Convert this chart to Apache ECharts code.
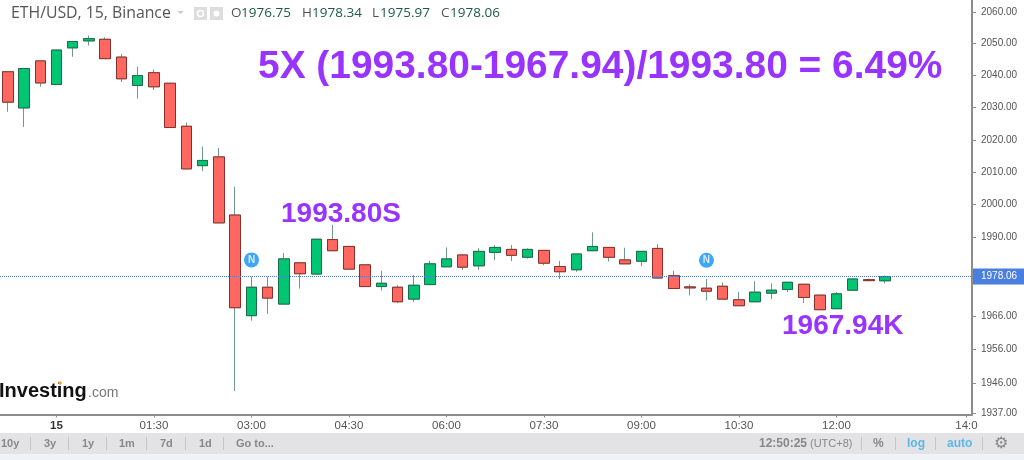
<!DOCTYPE html>
<html><head><meta charset="utf-8">
<style>html,body{margin:0;padding:0;background:#fff}#c{width:1024px;height:460px}</style>
<script src="https://cdn.jsdelivr.net/npm/echarts@6/dist/echarts.min.js"></script>
</head><body><div id="c"></div>
<script>
const barIndex = [-3,-2,-1,0,1,2,3,4,5,6,7,8,9,10,11,12,13,14,15,16,17,18,19,20,21,22,23,24,25,26,27,28,29,30,31,32,33,34,35,36,37,38,39,40,41,42,43,44,45,46,47,48,49,50,51];
const opens  = [2041.2,2029.9,2044.6,2037.2,2048.7,2050.9,2051.4,2045.8,2036.9,2040.9,2037.6,2024.2,2012.0,2014.7,1996.8,1966.2,1974.8,1969.7,1982.2,1978.8,1989.3,1987.2,1981.6,1975.0,1974.8,1971.2,1975.6,1981.0,1984.6,1981.3,1985.4,1986.3,1983.9,1986.0,1981.1,1980.1,1985.9,1986.9,1983.1,1982.7,1986.6,1978.3,1974.9,1974.5,1975.1,1971.0,1970.4,1973.0,1974.1,1975.7,1972.4,1968.3,1973.9,1977.1,1976.75];
const closes = [2031.7,2042.2,2037.7,2048.0,2050.7,2051.6,2045.3,2039.0,2040.0,2036.5,2023.8,2011.0,2013.6,1994.4,1968.6,1974.8,1971.5,1983.4,1978.9,1989.4,1985.9,1980.3,1975.0,1976.0,1970.4,1975.4,1981.9,1983.4,1980.9,1985.7,1986.9,1984.5,1986.3,1982.1,1979.5,1984.9,1987.2,1983.9,1981.9,1985.7,1977.6,1974.4,1974.6,1973.6,1971.2,1969.2,1973.3,1973.9,1976.3,1971.7,1968.0,1972.8,1977.3,1976.8,1978.06];
const lows   = [2028.7,2024.0,2036.5,2037.1,2045.9,2049.4,2045.3,2038.0,2032.8,2035.5,2023.8,2010.9,2010.3,1994.4,1943.6,1964.7,1966.7,1969.7,1974.4,1978.6,1985.9,1980.3,1975.0,1973.8,1970.0,1970.3,1975.6,1981.0,1980.0,1980.1,1983.0,1982.7,1983.5,1981.5,1977.3,1979.5,1985.9,1982.6,1981.9,1981.2,1977.4,1974.4,1972.3,1970.8,1971.2,1969.2,1970.4,1971.2,1973.4,1970.0,1968.0,1968.3,1973.9,1976.6,1975.97];
const highs  = [2041.2,2042.4,2044.6,2048.2,2050.9,2052.6,2052.0,2046.8,2042.8,2041.9,2037.6,2025.4,2017.9,2017.5,2005.5,1978.0,1978.0,1985.2,1982.2,1989.5,1993.8,1987.2,1981.6,1979.8,1975.4,1978.5,1982.8,1986.9,1984.9,1986.7,1987.6,1987.6,1986.6,1986.0,1982.8,1984.9,1991.5,1986.9,1986.8,1985.7,1987.9,1979.8,1975.7,1977.3,1976.3,1973.4,1976.6,1976.0,1976.3,1975.7,1972.4,1973.4,1977.3,1977.4,1978.34];
const timeTicks  = [0,6,12,18,24,30,36,42,48,56];
const timeLabels = ['15','01:30','03:00','04:30','06:00','07:30','09:00','10:30','12:00','14:0'];
const priceTicks = [2060,2050,2040,2030,2020,2010,2000,1990,1966,1956,1946,1937];
const lastPrice = 1978.06;
const newsPoints = [[12,1983.1],[40,1983.0]];
const headerValues = [['O','1976.75'],['H','1978.34'],['L','1975.97'],['C','1978.06']];
const rangeButtons = ['10y','3y','1y','1m','7d','1d','Go to...'];

const GREEN='#00c673', RED='#ff6860', WICK='#6f9a88';
const full = barIndex.map((x,i)=>[x,opens[i],closes[i],lows[i],highs[i]]);
const bodies = barIndex.map((x,i)=>[x,opens[i],closes[i],Math.min(opens[i],closes[i]),Math.max(opens[i],closes[i])]);
const SANS='"Liberation Sans",Arial,sans-serif';
function txt(x,y,text,size,color,extra){
  return {type:'text',x,y,z:20,silent:true,style:Object.assign({text,fontSize:size,fill:color,fontFamily:SANS,textVerticalAlign:'middle'},extra||{})};
}
function sep(x){return {type:'rect',z:20,silent:true,shape:{x,y:437,width:1,height:13},style:{fill:'#c6c6c9'}};}
const graphics=[
  {type:'rect',z:1,silent:true,shape:{x:0,y:433,width:1024,height:21},style:{fill:'#e3e3e6'}},
  {type:'rect',z:1,silent:true,shape:{x:0,y:454,width:1024,height:6},style:{fill:'#eff2f6'}},
  txt(11,13,'ETH/USD, 15, Binance',15.8,'#555',{fontFamily:'"Open Sans",sans-serif'}),
  {type:'polygon',z:20,silent:true,shape:{points:[[177,11],[184,11],[180.5,14]]},style:{fill:'#ccc'}},
  {type:'rect',z:20,silent:true,shape:{x:194,y:7,width:13,height:13},style:{fill:'#ddd'}},
  {type:'rect',z:20,silent:true,shape:{x:210,y:7,width:13,height:13},style:{fill:'#ddd'}},
  {type:'circle',z:21,silent:true,shape:{cx:200.5,cy:13.5,r:3},style:{fill:'none',stroke:'#fff',lineWidth:1.5}},
  {type:'circle',z:21,silent:true,shape:{cx:216.5,cy:13.5,r:3},style:{fill:'#fff'}},
  txt(-1,391,'Investing',20,'#111',{fontWeight:'bold'}),
  txt(88,393,'.com',14,'#777'),
  {type:'circle',z:21,silent:true,shape:{cx:60,cy:383,r:1.8},style:{fill:'#f5a623'}},
  txt(258,67,'5X (1993.80-1967.94)/1993.80 = 6.49%',38.9,'#9933ff',{fontWeight:'bold'}),
  txt(281,214,'1993.80S',28,'#9933ff',{fontWeight:'bold'}),
  txt(782,326,'1967.94K',28,'#9933ff',{fontWeight:'bold'}),
  txt(759,444,'12:50:25',12,'#888',{fontWeight:'bold'}),
  txt(810,444,'(UTC+8)',11,'#888'),
  txt(873,444,'%',12,'#888',{fontWeight:'bold'}),
  txt(907,444,'log',12,'#5bb8e6',{fontWeight:'bold'}),
  txt(947,444,'auto',12,'#5bb8e6',{fontWeight:'bold'}),
  txt(994,444,'⚙',16,'#888',{fontFamily:'"DejaVu Sans",sans-serif'})
];
[[231,10],[302,10],[372,8],[441,9]].forEach((p,i)=>{
  graphics.push(txt(p[0],13,headerValues[i][0],13.5,'#555',{fontFamily:'"Open Sans",sans-serif'}));
  graphics.push(txt(p[0]+p[1],13,headerValues[i][1],13.5,'#1d5c3e',{fontFamily:'"Open Sans",sans-serif'}));
});
[1,44,82,119,160,199,236].forEach((x,i)=>graphics.push(txt(x,444,rangeButtons[i],11,'#888',{fontWeight:'bold'})));
[30,68,106,146,185,223,861,895,935,982].forEach(x=>graphics.push(sep(x)));

const chart=echarts.init(document.getElementById('c'),null,{renderer:'canvas'});
chart.setOption({
  animation:false,
  textStyle:{fontFamily:SANS},
  graphic:graphics,
  grid:{left:0,top:0,width:972,height:414.5,containLabel:false,outerBoundsMode:'none'},
  xAxis:{type:'value',min:-3.477,max:56.34,splitLine:{show:false},
    axisLine:{show:true,onZero:false,lineStyle:{color:'#8c8c8c',width:2}},
    axisTick:{show:true,length:3,lineStyle:{color:'#8c8c8c'},customValues:timeTicks},
    axisLabel:{customValues:timeTicks,margin:5,fontSize:11.5,color:'#555',hideOverlap:false,showMinLabel:true,showMaxLabel:true,
      formatter:v=>{const s=timeLabels[timeTicks.indexOf(v)];return s==='15'?'{b|15}':s;},
      rich:{b:{fontWeight:'bold',fontSize:11.5,color:'#333'}}}},
  yAxis:{type:'log',logBase:10,position:'right',min:1936.6,max:2063.8,splitLine:{show:false},minorTick:{show:false},
    axisLine:{show:true,onZero:false,lineStyle:{color:'#8c8c8c',width:2}},
    axisTick:{show:true,length:4,lineStyle:{color:'#8c8c8c'},customValues:priceTicks},
    axisLabel:{customValues:priceTicks,margin:9,fontSize:10,color:'#555',showMinLabel:true,showMaxLabel:true,
      formatter:v=>(+v).toFixed(2)}},
  series:[
    {type:'candlestick',name:'wicks',data:full,barWidth:11,silent:true,z:3,
     itemStyle:{color:GREEN,color0:RED,borderColor:WICK,borderColor0:WICK,borderWidth:1},
     markLine:{silent:true,symbol:'none',data:[{yAxis:lastPrice}],lineStyle:{color:'#4a7fe0',type:'dotted',width:1},
       label:{show:true,position:'end',distance:1,formatter:lastPrice.toFixed(2),color:'#fff',backgroundColor:'#4a7fe0',fontSize:10,fontWeight:'normal',padding:[3,8,3,8]}}},
    {type:'candlestick',name:'bodies',data:bodies,barWidth:11,silent:true,z:4,
     itemStyle:{color:GREEN,color0:RED,borderColor:'#1e6b4c',borderColor0:'#8c2f2c',borderWidth:1}},
    {type:'scatter',name:'news',data:newsPoints,symbol:'circle',symbolSize:15,silent:true,z:6,
     itemStyle:{color:'#0f8ff5'},label:{show:true,position:'inside',formatter:'N',color:'#fff',fontSize:10,fontWeight:'bold'}}
  ]
});
</script></body></html>
